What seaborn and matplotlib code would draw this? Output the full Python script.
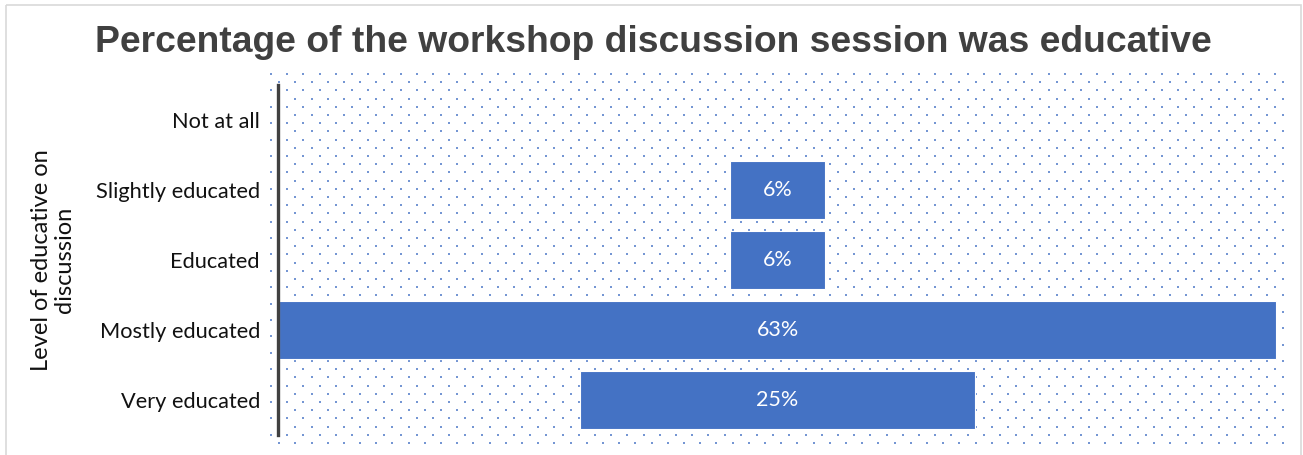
import numpy as np
import pandas as pd
import matplotlib
matplotlib.use("Agg")
import matplotlib.pyplot as plt
from matplotlib.patches import Rectangle
import seaborn as sns

# Survey responses: share of participants per level
categories = ["Not at all", "Slightly educated", "Educated", "Mostly educated", "Very educated"]
percentages = [0, 6, 6, 63, 25]
bar_labels = ["", "6%", "6%", "63%", "25%"]

title = "Percentage of the workshop discussion session was educative"
y_title = "Level of educative on\ndiscussion"

BAR_COLOR = "#4472C4"
DOT_COLOR = "#7596D3"

sns.set_theme(style="white")
plt.rcParams["font.family"] = ["Lato", "DejaVu Sans"]

W, H = 1303, 455
fig = plt.figure(figsize=(W / 100, H / 100), dpi=100)
fig.patch.set_facecolor("white")

# Dotted plot-area fill drawn in pixel space behind the chart
bg = fig.add_axes([0, 0, 1, 1], zorder=0)
bg.set_xlim(0, W)
bg.set_ylim(H, 0)
bg.axis("off")
dx, dy = 16.2, 8.2
xs, ys = [], []
for r, yy in enumerate(np.arange(74, 444, dy)):
    off = 0 if r % 2 == 0 else dx / 2
    for xx in np.arange(271 + off, 1291, dx):
        xs.append(xx)
        ys.append(yy)
bg.scatter(xs, ys, s=3.2, marker="s", color=DOT_COLOR, linewidths=0)
bg.add_patch(Rectangle((6, 5), 1295, 460, fill=False, edgecolor="#D9D9D9", linewidth=1.2))

# Main chart axes
left, right, top, bottom = 278, 1277, 85, 435
ax = fig.add_axes([left / W, (H - bottom) / H, (right - left) / W, (bottom - top) / H], zorder=1)
ax.patch.set_alpha(0)

df = pd.DataFrame({"level": categories, "pct": percentages})
sns.barplot(data=df, x="pct", y="level", orient="h", color=BAR_COLOR, saturation=1,
            width=0.82, edgecolor="white", linewidth=0.8, ax=ax)

# Center each bar around the midpoint of the widest bar (funnel layout)
center = max(percentages) / 2
for patch in ax.patches:
    w = patch.get_width()
    patch.set_x(center - w / 2)

ax.bar_label(ax.containers[0], labels=bar_labels, label_type="center",
             color="white", fontsize=15.5)

ax.set_xlim(-0.05, max(percentages) + 0.05)
ax.set_ylim(len(categories) - 0.5, -0.5)
ax.set_xticks([])
ax.set_xlabel("")
for s in ["top", "right", "bottom"]:
    ax.spines[s].set_visible(False)
ax.spines["left"].set_color("#404040")
ax.spines["left"].set_linewidth(2.4)
ax.tick_params(axis="y", length=0, pad=13, labelsize=15.7, labelcolor="#111111")

ax.set_ylabel(y_title, fontsize=17, color="#111111", linespacing=1.15)
ax.yaxis.label.set_verticalalignment("center")
ax.yaxis.label.set_multialignment("center")
ax.yaxis.set_label_coords((53 - left) / (right - left), 0.5)

fig.text(0.5015, 1 - 43 / H, title, ha="center", va="center", fontsize=26.8,
         fontweight="bold", color="#404040", family=["Liberation Sans", "DejaVu Sans"])

fig.savefig("out.png", dpi=100, facecolor="white")
